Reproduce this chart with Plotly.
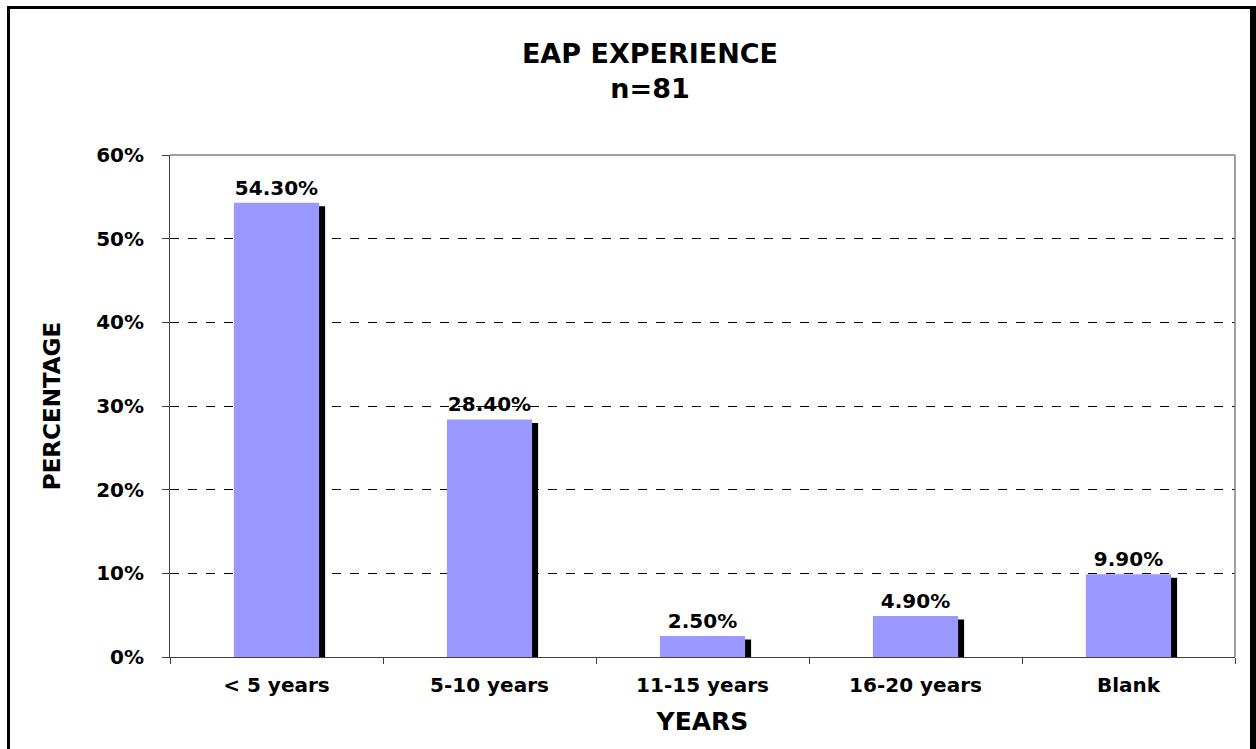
import plotly.graph_objects as go

categories = ["< 5 years", "5-10 years", "11-15 years", "16-20 years", "Blank"]
values = [0.543, 0.284, 0.025, 0.049, 0.099]
y_ticks = [0, 0.1, 0.2, 0.3, 0.4, 0.5, 0.6]
y_tick_labels = ["0%", "10%", "20%", "30%", "40%", "50%", "60%"]

FONT = "DejaVu Sans, Verdana, sans-serif"
W, H = 1256, 749
L, R, T, B = 170, 21, 155, 92
pw, ph = W - L - R, H - T - B

def px_x(p):
    return (p - L) / pw

def px_y(p):
    return (H - B - p) / ph

shadow_drop = 0.6 / ph * 3.5
fig = go.Figure()
fig.add_trace(go.Bar(
    x=categories, y=[v - shadow_drop for v in values],
    width=0.4, offset=-0.2 + 6 / (pw / 5),
    marker=dict(color="black", line=dict(width=0)),
    hoverinfo="skip", showlegend=False,
))
fig.add_trace(go.Bar(
    x=categories, y=values,
    width=0.4, offset=-0.2,
    marker=dict(color="#9999FF", line=dict(width=0)),
    texttemplate="<b>%{y:.2%}</b>", textposition="outside",
    textfont=dict(family=FONT, size=20, color="black"),
    cliponaxis=False, showlegend=False,
))

fig.update_layout(
    width=W, height=H,
    margin=dict(l=L, r=R, t=T, b=B, pad=0),
    paper_bgcolor="white", plot_bgcolor="white",
    barmode="overlay",
    font=dict(family=FONT, color="black"),
    title=dict(
        text="<b>EAP EXPERIENCE<br>n=81</b>",
        x=px_x(650), xref="paper", xanchor="center",
        y=1 - 63 / H, yanchor="top", yref="container",
        font=dict(family=FONT, size=27, color="black"),
    ),
    xaxis=dict(
        type="category", tickson="boundaries", ticks="outside", ticklen=6,
        tickcolor="#404040", tickwidth=1,
        showline=True, linecolor="#404040", linewidth=1,
        showgrid=False,
        tickfont=dict(family=FONT, size=20, color="black"),
        ticklabelstandoff=10,
        title=dict(text="<b>YEARS</b>", font=dict(family=FONT, size=25, color="black"), standoff=16),
        range=[-0.5, 4.5],
    ),
    yaxis=dict(
        range=[0, 0.6], tickvals=y_ticks, ticktext=["<b>%s</b>" % t for t in y_tick_labels],
        ticks="outside", ticklen=7, tickcolor="#404040", tickwidth=1,
        showline=True, linecolor="#404040", linewidth=1,
        showgrid=True, gridcolor="black", gridwidth=1, griddash="dash",
        zeroline=False,
        tickfont=dict(family=FONT, size=20, color="black"),
        ticklabelstandoff=14,
        title=dict(text="<b>PERCENTAGE</b>", font=dict(family=FONT, size=23, color="black"), standoff=29),
    ),
    shapes=[
        dict(type="line", xref="paper", yref="paper", x0=0, x1=1, y0=1, y1=1,
             line=dict(color="#808080", width=1.5)),
        dict(type="line", xref="paper", yref="paper", x0=1, x1=1, y0=0, y1=1,
             line=dict(color="#808080", width=1.5)),
        dict(type="line", xref="paper", yref="paper", x0=px_x(8.5), x1=px_x(8.5),
             y0=px_y(6), y1=px_y(760), line=dict(color="black", width=3)),
        dict(type="line", xref="paper", yref="paper", x0=px_x(7), x1=px_x(1256),
             y0=px_y(7.5), y1=px_y(7.5), line=dict(color="black", width=3)),
        dict(type="line", xref="paper", yref="paper", x0=px_x(1253), x1=px_x(1253),
             y0=px_y(6), y1=px_y(760), line=dict(color="black", width=6)),
    ],
)
fig.update_xaxes(ticktext=["<b>%s</b>" % c for c in categories], tickvals=categories)

fig.write_html(
    "out.html",
    config={"displayModeBar": False},
    post_script="document.body.style.margin='0';document.body.style.overflow='hidden';",
)
